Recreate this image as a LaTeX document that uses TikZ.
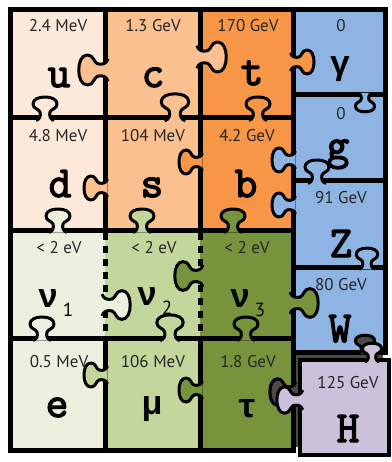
\documentclass[tikz,border=0pt]{standalone}
\usepackage{fontspec}
\setsansfont{PT Sans}
\newfontfamily\greekfont{Liberation Mono}
\newfontfamily\letterfont{Latin Modern Mono}[FakeBold=3]
\usetikzlibrary{positioning}

% piece colours
\definecolor{upq}{HTML}{FDE9D9}
\definecolor{chq}{HTML}{FAC090}
\definecolor{toq}{HTML}{F79646}
\definecolor{nuA}{HTML}{EBF1DE}
\definecolor{nuB}{HTML}{C3D69B}
\definecolor{nuC}{HTML}{77933C}
\definecolor{gauge}{HTML}{8DB4E2}
\definecolor{higgs}{HTML}{CCC1DA}
\definecolor{slot}{HTML}{4A4A4A}

\tikzset{
  % one puzzle knob, base on the seam, head pointing away
  tab/.pic={
    \path[draw=black, line width=3pt, line join=round, pic actions]
      (-9,-2.5) .. controls (-5,-1) and (-4,2) .. (-5,6)
      .. controls (-6,9) and (-12,9) .. (-12,14)
      .. controls (-12,19) and (-6,21) .. (0,21)
      .. controls (6,21) and (12,19) .. (12,14)
      .. controls (12,9) and (6,9) .. (5,6)
      .. controls (4,2) and (5,-1) .. (9,-2.5);
  },
  tabdown/.style={rotate=0},
  tabup/.style={rotate=180},
  tabright/.style={rotate=90},
  tableft/.style={rotate=-90},
}

\begin{document}
\begin{tikzpicture}[
    x=1pt, y=-1pt,
    % Styles
    seam/.style={line width=5pt, line join=miter},
    dashseam/.style={line width=5pt, dash pattern=on 7pt off 6pt},
    mass/.style={anchor=base, text=black!85, font=\sffamily\fontsize{17}{17}\selectfont},
    sym/.style={anchor=base, font=\letterfont\fontsize{44}{44}\selectfont},
    gsym/.style={anchor=base, font=\greekfont\bfseries\fontsize{34}{34}\selectfont},
    index/.style={anchor=base west, inner sep=1pt, font=\sffamily\fontsize{19}{19}\selectfont}
  ]

  \useasboundingbox (0,0) rectangle (391,462);
  \fill[white] (0,0) rectangle (391,462);

  % --- cells ---
  \fill[upq] (10,10) rectangle (105,230);
  \fill[chq] (105,10) rectangle (200,230);
  \fill[toq] (200,10) rectangle (293,230);
  \fill[nuA] (10,230) rectangle (105,450);
  \fill[nuB] (105,230) rectangle (200,450);
  \fill[nuC] (200,230) rectangle (293,450);
  \fill[gauge] (293,10) rectangle (385,352);
  \fill[slot] (293,352) rectangle (383,447);

  % --- seams ---
  \draw[seam] (10,10) rectangle (293,450);
  \draw[seam] (293,10) -| (385,352) -- (293,352);
  \foreach \y in {118,230,338}
    \draw[seam] (10,\y) -- (293,\y);
  \foreach \y in {95,181,267}
    \draw[seam] (293,\y) -- (385,\y);
  \foreach \x in {105,200} {
    \draw[seam] (\x,10) -- (\x,230);
    \draw[seam] (\x,338) -- (\x,450);
    \draw[dashseam] (\x,233) -- (\x,336);
  }

  % --- knobs between the pieces ---
  \pic[tableft, scale=1.25, fill=chq] at (105,70) {tab};
  \pic[tabup, fill=upq] at (45,118) {tab};
  \pic[tabup, scale=1.15, fill=chq] at (175,118) {tab};
  \pic[tabright, scale=1.25, fill=chq] at (200,57) {tab};
  \pic[tabright, fill=toq] at (293,62) {tab};
  \pic[tabup, fill=toq] at (258,118) {tab};
  \pic[tabdown, scale=0.8, fill=gauge] at (365,95) {tab};
  \pic[tableft, fill=toq] at (200,162) {tab};
  \pic[tableft, fill=chq] at (105,188) {tab};
  \pic[tableft, fill=gauge] at (293,160) {tab};
  \pic[tabup, fill=gauge] at (317,181) {tab};
  \pic[tableft, fill=gauge] at (293,205) {tab};
  \pic[tabup, fill=nuA] at (58,230) {tab};
  \pic[tabup, fill=nuB] at (142,230) {tab};
  \pic[tabup, fill=nuC] at (233,230) {tab};
  \pic[tabright, scale=1.2, fill=nuA] at (105,305) {tab};
  \pic[tableft, scale=1.2, fill=nuC] at (200,276) {tab};
  \pic[tabright, scale=1.2, fill=nuC] at (293,303) {tab};
  \pic[tabup, scale=0.9, fill=gauge] at (367,267) {tab};
  \pic[tabup, scale=1.1, fill=nuB] at (170,338) {tab};
  \pic[tabup, fill=nuA] at (42,338) {tab};
  \pic[tabup, fill=nuC] at (246,338) {tab};
  \pic[tableft, fill=nuB] at (105,375) {tab};
  \pic[tableft, fill=nuC] at (200,390) {tab};

  % --- the Higgs piece lifted out of its slot ---
  \pic[tabup, scale=0.8, fill=slot] at (365,352) {tab};
  \pic[tableft, scale=1.1, fill=slot] at (293,392) {tab};
  \draw[line width=3.5pt, fill=higgs] (300,360) rectangle (389,455);
  \pic[tabup, scale=0.8, fill=higgs] at (372,360) {tab};
  \pic[tableft, scale=1.1, fill=higgs] at (300,400) {tab};

  % --- masses ---
  \node[mass] (m-u) at (58,32) {2.4 MeV};
  \node[mass] (m-c) at (153,32) {1.3 GeV};
  \node[mass] (m-t) at (248,32) {170 GeV};
  \node[mass] (m-gamma) at (341,32) {0};
  \node[mass] (m-d) at (58,142) {4.8 MeV};
  \node[mass] (m-s) at (153,142) {104 MeV};
  \node[mass] (m-b) at (247,142) {4.2 GeV};
  \node[mass] (m-g) at (341,120) {0};
  \node[mass] (m-Z) at (341,203) {91 GeV};
  \node[mass] (m-nu1) at (59,253) {< 2 eV};
  \node[mass] (m-nu2) at (154,253) {< 2 eV};
  \node[mass] (m-nu3) at (247,253) {< 2 eV};
  \node[mass] (m-W) at (341,290) {80 GeV};
  \node[mass] (m-e) at (59,367) {0.5 MeV};
  \node[mass] (m-mu) at (153,367) {106 MeV};
  \node[mass] (m-tau) at (248,367) {1.8 GeV};
  \node[mass] (m-H) at (348,388) {125 GeV};

  % --- particle symbols ---
  \node[sym] (u) at (59,87) {u};
  \node[sym] (c) at (153,87) {c};
  \node[sym] (t) at (252,85) {t};
  \node[gsym, anchor=center] (gamma) at (340,69) {γ};
  \node[sym] (d) at (60,197) {d};
  \node[sym] (s) at (152,197) {s};
  \node[sym] (b) at (246,197) {b};
  \node[sym] (g) at (338,159) {g};
  \node[sym] (Z) at (341,257) {Z};
  \node[gsym] (nu1) at (48,307) {ν};
  \node[gsym] (nu2) at (147,305) {ν};
  \node[gsym] (nu3) at (240,307) {ν};
  \node[index] (i1) at ([yshift=-9pt]nu1.base east) {1};
  \node[index] (i2) at ([yshift=-9pt]nu2.base east) {2};
  \node[index] (i3) at ([yshift=-9pt]nu3.base east) {3};
  \node[sym] (W) at (340,342) {W};
  \node[sym] (e) at (57,417) {e};
  \node[gsym] (mu) at (152,414) {μ};
  \node[gsym] (tau) at (247,417) {τ};
  \node[sym] (H) at (348,442) {H};

\end{tikzpicture}
\end{document}
